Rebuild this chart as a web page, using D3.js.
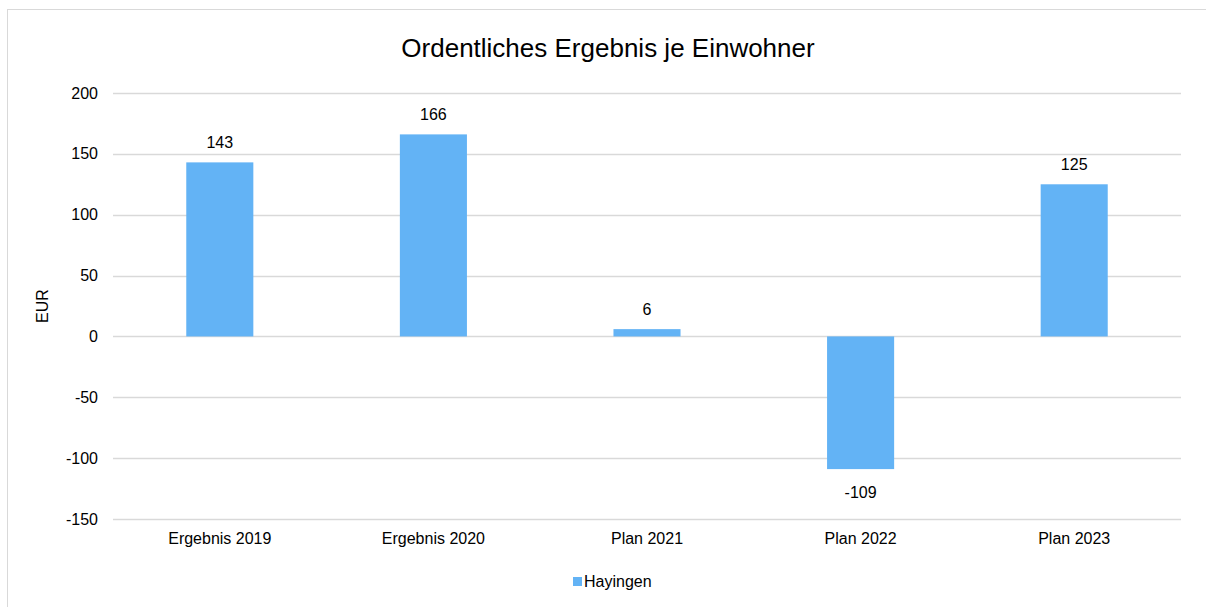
<!DOCTYPE html>
<html><head><meta charset="utf-8">
<script src="https://cdn.jsdelivr.net/npm/d3@7"></script>
<style>
html,body{margin:0;padding:0;background:#fff;}
text{font-family:"Liberation Sans",Arial,sans-serif;fill:#000;}
</style></head>
<body><svg id="c" width="1206" height="607"></svg>
<script>
const categories = ["Ergebnis 2019","Ergebnis 2020","Plan 2021","Plan 2022","Plan 2023"];
const values = [143,166,6,-109,125];
const yTicks = [-150,-100,-50,0,50,100,150,200];
const seriesName = "Hayingen";
const title = "Ordentliches Ergebnis je Einwohner";
const yLabel = "EUR";

const svg = d3.select("#c");
const color = "#63B3F5";
const FONT = "Liberation Sans, Arial, sans-serif";
// outer border
svg.append("rect").attr("x",7.5).attr("y",9.5).attr("width",1220).attr("height",620)
  .attr("fill","none").attr("stroke","#D9D9D9").attr("stroke-width",1);

const x0 = 113, x1 = 1181;
const y = d3.scaleLinear().domain([-150,200]).range([519,93]);
const x = d3.scaleBand().domain(categories).range([x0,x1]).paddingInner(0.686).paddingOuter(0.343);

// grid
svg.append("g").selectAll("line").data(yTicks).join("line")
  .attr("x1",x0).attr("x2",x1).attr("y1",d=>Math.round(y(d))+0.5).attr("y2",d=>Math.round(y(d))+0.5)
  .attr("stroke","#D9D9D9").attr("stroke-width",1.3);

// y axis
const ya = svg.append("g").attr("transform",`translate(${x0},0)`)
  .call(d3.axisLeft(y).tickValues(yTicks).tickFormat(d=>String(d)).tickSize(0).tickPadding(15));
ya.select(".domain").remove();
ya.selectAll("text").attr("font-size",16).attr("fill","#000").style("font-family",FONT);

// x axis
const xa = svg.append("g").attr("transform",`translate(0,519)`)
  .call(d3.axisBottom(x).tickSize(0).tickPadding(14));
xa.select(".domain").remove();
xa.selectAll("text").attr("font-size",16).attr("fill","#000").style("font-family",FONT);

// bars
svg.append("g").selectAll("rect").data(values).join("rect")
  .attr("x",(d,i)=>x(categories[i])).attr("width",x.bandwidth())
  .attr("y",d=>y(Math.max(0,d))).attr("height",d=>Math.abs(y(d)-y(0)))
  .attr("fill",color);

// labels
svg.append("g").selectAll("text").data(values).join("text")
  .attr("x",(d,i)=>x(categories[i])+x.bandwidth()/2)
  .attr("y",d=> d>=0 ? y(d)-14 : y(d)+29)
  .attr("text-anchor","middle").attr("font-size",16).text(d=>d);

// title
svg.append("text").attr("x",608).attr("y",57).attr("text-anchor","middle").attr("font-size",26).text(title);

// y label
svg.append("text").attr("transform",`translate(48,306) rotate(-90)`).attr("text-anchor","middle").attr("font-size",16).text(yLabel);

// legend
const lg = svg.append("g");
lg.append("rect").attr("x",573).attr("y",577).attr("width",9).attr("height",9).attr("fill",color);
lg.append("text").attr("x",584).attr("y",587).attr("font-size",16).text(seriesName);
</script></body></html>
